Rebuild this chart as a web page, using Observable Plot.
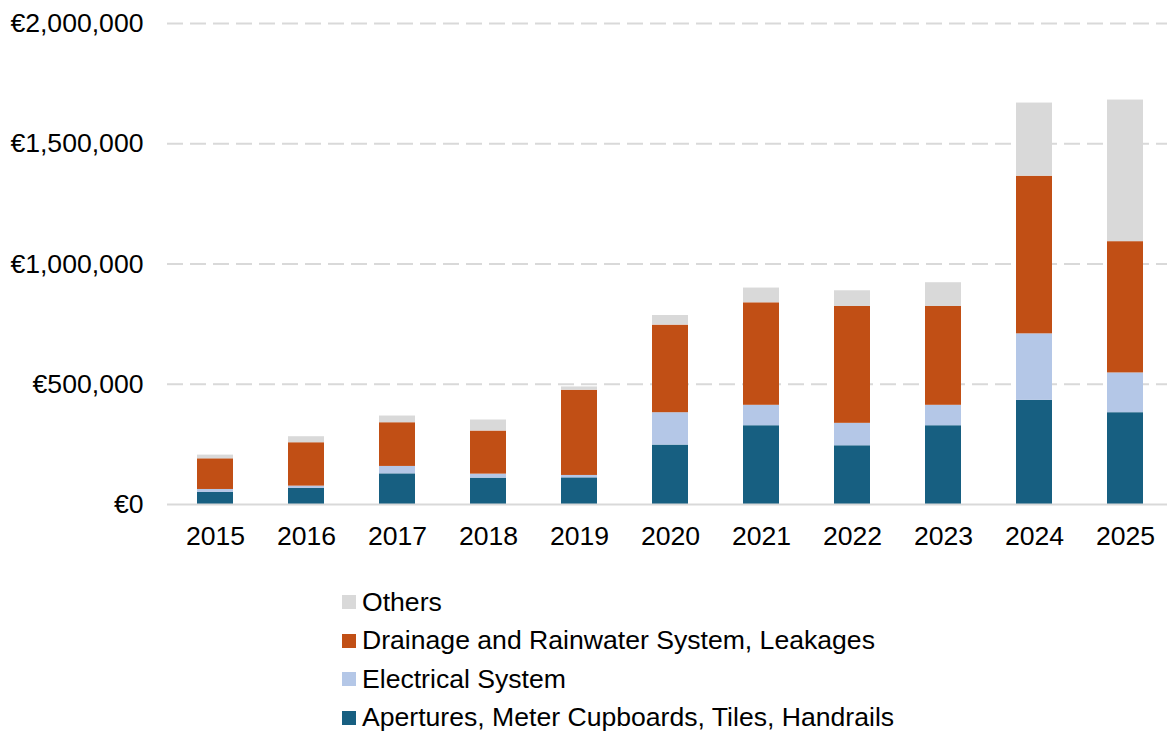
<!DOCTYPE html>
<html>
<head>
<meta charset="utf-8">
<script src="https://cdn.jsdelivr.net/npm/d3@7"></script>
<script src="https://cdn.jsdelivr.net/npm/@observablehq/plot@0.6"></script>
<style>
  body { margin: 0; background: #fff; font-family: "Liberation Sans", Arial, sans-serif; overflow: hidden; }
  #legend { padding-top: 23px; margin-left: 342px; font-size: 26.6px; color: #000; }
  .row { display: flex; align-items: center; height: 38.5px; }
  .sw { width: 14px; height: 14px; margin-right: 6px; flex: none; }
</style>
</head>
<body>
<div id="chart"></div>
<div id="legend"></div>
<script>
const years = ["2015","2016","2017","2018","2019","2020","2021","2022","2023","2024","2025"];
const apertures  = [50000, 66700, 127500, 109600, 110800, 247100, 327500, 244200, 327500, 433300, 381700];
const electrical = [12500, 9700, 30800, 16700, 10000, 134600, 85000, 93300, 85000, 276300, 165400];
const drainage   = [127500, 180400, 181700, 179200, 354200, 364200, 426200, 485800, 410800, 655400, 545800];
const others     = [15400, 25000, 27900, 45800, 13900, 40000, 61300, 65400, 98800, 304200, 588800];
const seriesNames = ["Apertures, Meter Cupboards, Tiles, Handrails", "Electrical System", "Drainage and Rainwater System, Leakages", "Others"];
const seriesColors = ["#175f81", "#b4c7e7", "#c14f15", "#d9d9d9"];
const yTicks = [0, 500000, 1000000, 1500000, 2000000];

const seriesValues = [apertures, electrical, drainage, others];
const data = [];
seriesNames.forEach((s, i) => years.forEach((y, j) => data.push({year: y, series: s, value: seriesValues[i][j]})));

const fmt = d => "€" + d3.format(",")(d);

const chart = Plot.plot({
  width: 1167,
  height: 560,
  marginLeft: 167,
  marginRight: 0,
  marginTop: 23,
  marginBottom: 56,
  style: {fontFamily: "'Liberation Sans', Arial, sans-serif", fontSize: "26.6px", color: "#000", background: "#fff"},
  x: {domain: years, range: [167, 1172], paddingInner: 0.606, paddingOuter: 0.3, label: null},
  y: {domain: [0, 2000000], label: null},
  color: {domain: seriesNames, range: seriesColors},
  marks: [
    Plot.ruleY(yTicks.filter(d => d > 0), {stroke: "#d9d9d9", strokeWidth: 2, strokeDasharray: "16,7"}),
    Plot.barY(data, {x: "year", y: "value", fill: "series", order: seriesNames}),
    Plot.ruleY([0], {stroke: "#d9d9d9", strokeWidth: 2}),
    Plot.axisY({ticks: yTicks, tickFormat: fmt, tickSize: 0, tickPadding: 24, fontSize: 26.6, label: null}),
    Plot.axisX({tickSize: 0, tickPadding: 22, fontSize: 26.6, label: null})
  ]
});
document.getElementById("chart").appendChild(chart);

const legend = document.getElementById("legend");
for (let i = seriesNames.length - 1; i >= 0; i--) {
  const row = document.createElement("div");
  row.className = "row";
  const sw = document.createElement("span");
  sw.className = "sw";
  sw.style.background = seriesColors[i];
  const t = document.createElement("span");
  t.textContent = seriesNames[i];
  row.appendChild(sw);
  row.appendChild(t);
  legend.appendChild(row);
}
</script>
</body>
</html>
